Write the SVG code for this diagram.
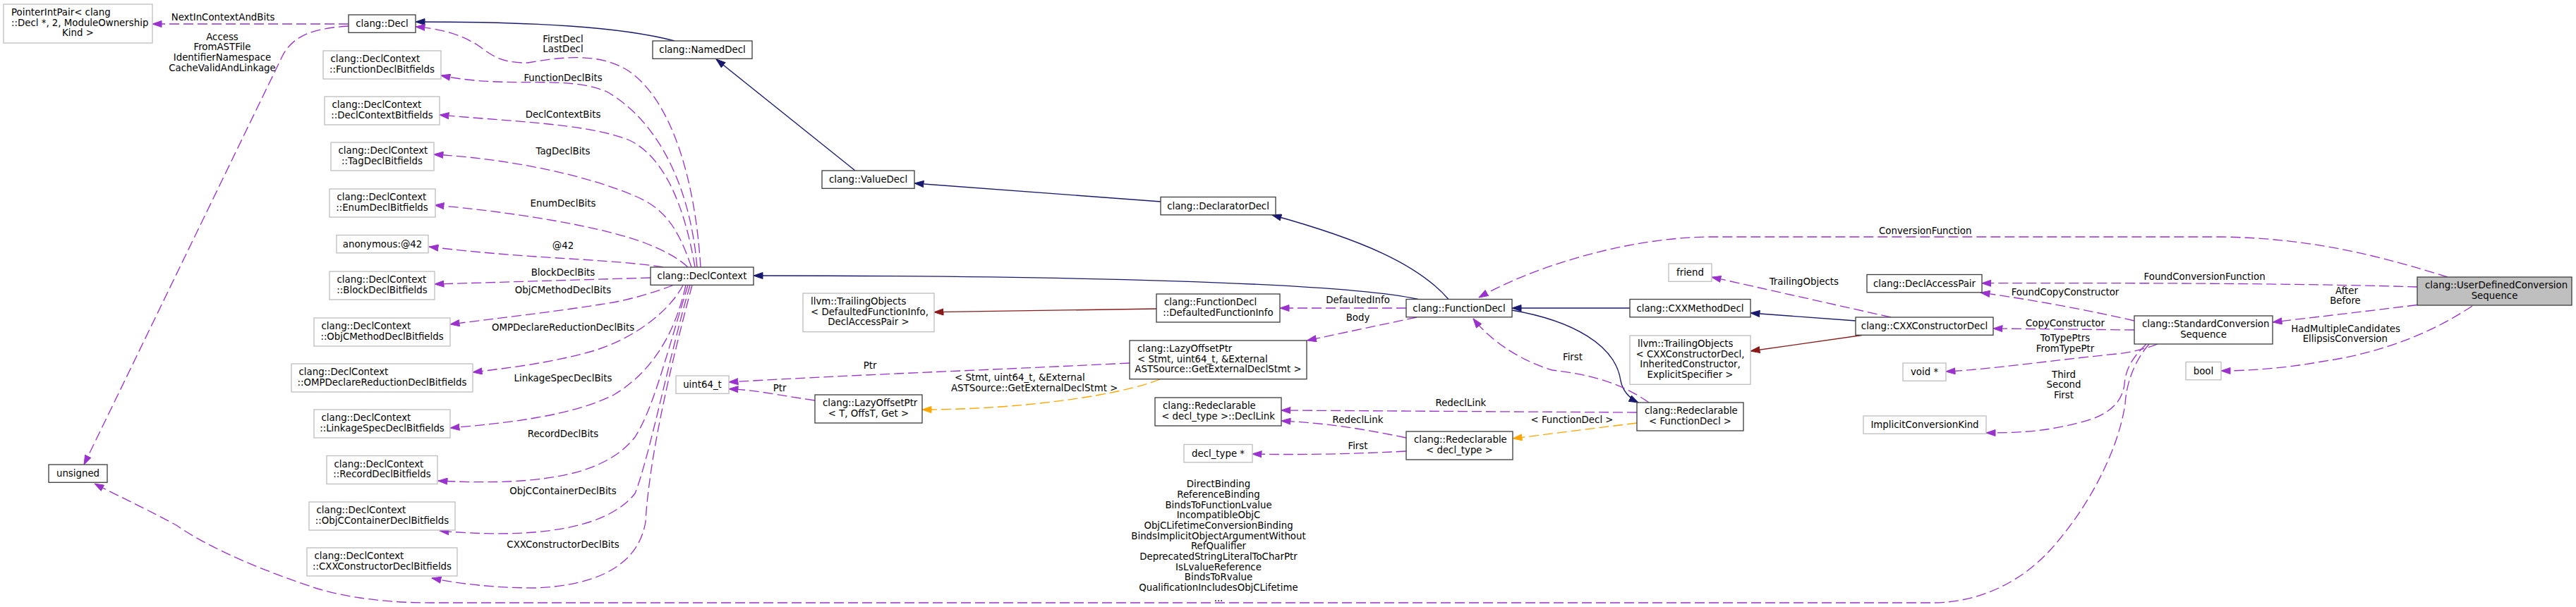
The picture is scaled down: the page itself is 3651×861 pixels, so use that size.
<svg xmlns="http://www.w3.org/2000/svg" width="3651" height="861" viewBox="0 0 3651 861">
<defs>
<style>
text{font-family:"DejaVu Sans","Liberation Sans",sans-serif;font-size:13.33px;fill:#000}
.m{text-anchor:middle}
.s{text-anchor:start}
.nb rect{fill:#fff;stroke:#404040;stroke-width:1.33}
.ng rect{fill:#fff;stroke:#bfbfbf;stroke-width:1.33}
.nc rect{fill:#bfbfbf;stroke:#404040;stroke-width:1.33}
.e path{fill:none;stroke-width:1.33}
.e .nv{stroke:#191970;marker-end:url(#mn)}
.e .rd{stroke:#8b1a1a;marker-end:url(#mr)}
.e .pp{stroke:#9a32cd;stroke-dasharray:14,6;marker-end:url(#mp)}
.e .or{stroke:#ffa500;stroke-dasharray:14,6;marker-end:url(#mo)}
</style>
<marker id="mn" viewBox="0 0 14 10" refX="13.5" refY="5" markerWidth="14" markerHeight="10" markerUnits="userSpaceOnUse" orient="auto"><path d="M0.5,0.5 L13.5,5 L0.5,9.5 z" fill="#191970" stroke="#191970"/></marker>
<marker id="mr" viewBox="0 0 14 10" refX="13.5" refY="5" markerWidth="14" markerHeight="10" markerUnits="userSpaceOnUse" orient="auto"><path d="M0.5,0.5 L13.5,5 L0.5,9.5 z" fill="#8b1a1a" stroke="#8b1a1a"/></marker>
<marker id="mp" viewBox="0 0 14 10" refX="13.5" refY="5" markerWidth="14" markerHeight="10" markerUnits="userSpaceOnUse" orient="auto"><path d="M0.5,0.5 L13.5,5 L0.5,9.5 z" fill="#9a32cd" stroke="#9a32cd"/></marker>
<marker id="mo" viewBox="0 0 14 10" refX="13.5" refY="5" markerWidth="14" markerHeight="10" markerUnits="userSpaceOnUse" orient="auto"><path d="M0.5,0.5 L13.5,5 L0.5,9.5 z" fill="#ffa500" stroke="#ffa500"/></marker>
</defs>
<rect width="3651" height="861" fill="#fff"/>

<g id="connectors" class="e">
<path class="nv" d="M956,58 C880,38 760,31 589,31"/>
<path class="nv" d="M1212,242 L1015,84"/>
<path class="nv" d="M1645,286 L1296,260"/>
<path class="nv" d="M2053,424.5 C2010,375 1930,340 1803,305"/>
<path class="nv" d="M2010,424.5 C1900,400 1500,391 1068,391"/>
<path class="nv" d="M2310,437 L2143,437"/>
<path class="nv" d="M2143,440 C2230,455 2290,490 2297,540 C2300,555 2310,565 2322,571"/>
<path class="nv" d="M2630,455 L2481,444"/>
<path class="rd" d="M1639,438 L1324,442.7"/>
<path class="rd" d="M2639,475.5 L2481,498"/>
<path class="or" d="M1644,538 C1590,560 1450,581 1307,581"/>
<path class="or" d="M2320,600 L2144,622"/>
<path class="pp" d="M494,34 L216,34"/>
<path class="pp" d="M494,37 C445,40 415,50 400,80 L119,659"/>
<path class="pp" d="M993,379 C985,250 950,140 890,100 C850,75 800,80 748,89 C700,90 690,70 670,60 C650,48 620,40 589,38"/>
<path class="pp" d="M988,379 C978,260 930,170 860,130 C800,105 720,127 625,107"/>
<path class="pp" d="M985,379 C970,290 940,220 890,198 C830,175 720,172 623,163"/>
<path class="pp" d="M980,379 C960,320 940,295 900,278 C830,248 720,225 615,219"/>
<path class="pp" d="M975,379 C960,365 940,355 915,345 C850,320 720,300 616,291"/>
<path class="pp" d="M940,379 C900,372 820,368 760,364 C700,360 650,355 608,350"/>
<path class="pp" d="M922,394 L616,403"/>
<path class="pp" d="M954,404.5 C920,418 880,428 850,432 C780,443 700,452 638,460"/>
<path class="pp" d="M968,404.5 C950,440 900,480 840,498 C780,515 720,522 670,528"/>
<path class="pp" d="M972,404.5 C955,480 920,530 870,560 C810,590 720,600 638,607"/>
<path class="pp" d="M975,404.5 C940,520 925,580 900,620 C860,670 780,690 621,682"/>
<path class="pp" d="M978,404.5 C950,500 920,650 900,700 C860,750 760,765 623,753"/>
<path class="pp" d="M981,404.5 C950,520 920,650 915,740 C905,800 850,830 760,834 C700,834 650,828 612,820"/>
<path class="pp" d="M1601,515 C1400,525 1200,532 1033,542"/>
<path class="pp" d="M1155,568 C1100,560 1070,553 1033,551.7"/>
<path class="pp" d="M1993,437 L1814,437"/>
<path class="pp" d="M2008,450 L1852.5,483"/>
<path class="pp" d="M2337,571 C2300,545 2260,532 2200,525 C2150,510 2110,480 2088,452"/>
<path class="pp" d="M2320,585 L1816,582"/>
<path class="pp" d="M1993,621 C1930,608 1880,600 1816,597"/>
<path class="pp" d="M1993,640 C1900,645 1830,645 1775,644"/>
<path class="pp" d="M2680,450 L2426,393"/>
<path class="pp" d="M3469,393 C3380,365 3280,338 3150,336 L2420,336 C2300,338 2170,380 2096,422"/>
<path class="pp" d="M3426,407 C3300,403 3100,401 2809,401.7"/>
<path class="pp" d="M3025,455 C2960,440 2880,425 2807,415"/>
<path class="pp" d="M3025,468 L2825,466"/>
<path class="pp" d="M3058,488 C3040,495 3020,500 3000,502 C2900,512 2820,524 2758,527"/>
<path class="pp" d="M3042,488 C3025,505 3013,520 3011,545 C3008,570 2990,590 2945,600 C2900,612 2860,614 2815,614"/>
<path class="pp" d="M3046,488 C3027,510 3014,540 3012,573 C3002,640 2960,720 2906,780 C2860,830 2800,855 2738,855 L610,855 C560,855 500,850 450,835 C380,812 300,780 250,745 C200,718 160,700 134,686"/>
<path class="pp" d="M3426,432.5 C3350,442 3280,450 3221,457"/>
<path class="pp" d="M3504,434 C3450,470 3380,500 3290,513 C3240,522 3190,526 3148,526"/>
</g>

<g id="edge-labels">
<text class="m" x="316" y="29">NextInContextAndBits</text>
<text class="m" x="315" y="56.7">Access</text>
<text class="m" x="315" y="71.4">FromASTFile</text>
<text class="m" x="315" y="86">IdentifierNamespace</text>
<text class="m" x="315" y="100.7">CacheValidAndLinkage</text>
<text class="m" x="798" y="59.7">FirstDecl</text>
<text class="m" x="798" y="74.3">LastDecl</text>
<text class="m" x="798" y="114.7">FunctionDeclBits</text>
<text class="m" x="798" y="167">DeclContextBits</text>
<text class="m" x="798" y="219">TagDeclBits</text>
<text class="m" x="798" y="293">EnumDeclBits</text>
<text class="m" x="798" y="353">@42</text>
<text class="m" x="798" y="390.7">BlockDeclBits</text>
<text class="m" x="798" y="415.7">ObjCMethodDeclBits</text>
<text class="m" x="798" y="469">OMPDeclareReductionDeclBits</text>
<text class="m" x="798" y="541.4">LinkageSpecDeclBits</text>
<text class="m" x="798" y="620.4">RecordDeclBits</text>
<text class="m" x="798" y="701.4">ObjCContainerDeclBits</text>
<text class="m" x="798" y="777">CXXConstructorDeclBits</text>
<text class="m" x="1233" y="522.7">Ptr</text>
<text class="m" x="1105" y="555.4">Ptr</text>
<text class="s" x="1353" y="540.4">&lt; Stmt, uint64_t, &amp;External</text>
<text class="s" x="1348" y="555">ASTSource::GetExternalDeclStmt &gt;</text>
<text class="m" x="1924.5" y="430">DefaultedInfo</text>
<text class="m" x="1924.5" y="455.4">Body</text>
<text class="m" x="2229" y="511.4">First</text>
<text class="m" x="2070.4" y="576.4">RedeclLink</text>
<text class="m" x="2228" y="599.7">&lt; FunctionDecl &gt;</text>
<text class="m" x="1924.5" y="599.7">RedeclLink</text>
<text class="m" x="1924.5" y="637">First</text>
<text class="m" x="2556.8" y="404">TrailingObjects</text>
<text class="m" x="2728.7" y="332.4">ConversionFunction</text>
<text class="m" x="3124.6" y="397">FoundConversionFunction</text>
<text class="m" x="2927" y="419">FoundCopyConstructor</text>
<text class="m" x="2927" y="463">CopyConstructor</text>
<text class="m" x="2927" y="484">ToTypePtrs</text>
<text class="m" x="2927" y="499">FromTypePtr</text>
<text class="m" x="2925" y="535.7">Third</text>
<text class="m" x="2925" y="550.4">Second</text>
<text class="m" x="2925" y="565">First</text>
<text class="m" x="3326" y="417">After</text>
<text class="m" x="3324" y="431.4">Before</text>
<text class="m" x="3324.7" y="470.7">HadMultipleCandidates</text>
<text class="m" x="3323.8" y="485">EllipsisConversion</text>
<text class="m" x="1727" y="691.4">DirectBinding</text>
<text class="m" x="1727" y="706.1">ReferenceBinding</text>
<text class="m" x="1727" y="720.7">BindsToFunctionLvalue</text>
<text class="m" x="1727" y="735.4">IncompatibleObjC</text>
<text class="m" x="1727" y="750.1">ObjCLifetimeConversionBinding</text>
<text class="m" x="1727" y="764.7">BindsImplicitObjectArgumentWithout</text>
<text class="m" x="1727" y="779.4">RefQualifier</text>
<text class="m" x="1727" y="794.1">DeprecatedStringLiteralToCharPtr</text>
<text class="m" x="1727" y="808.7">IsLvalueReference</text>
<text class="m" x="1727" y="823.4">BindsToRvalue</text>
<text class="m" x="1727" y="838.1">QualificationIncludesObjCLifetime</text>
<text class="m" x="1727" y="852.7">...</text>
</g>

<g id="n-pointerintpair" class="ng"><rect x="5" y="6" width="211" height="55"/><text class="s" x="16" y="22">PointerIntPair&lt; clang</text><text class="s" x="16" y="36.7">::Decl *, 2, ModuleOwnership</text><text class="m" x="110.5" y="51.3">Kind &gt;</text></g>
<g id="n-decl" class="nb"><rect x="494" y="21" width="95" height="25.3"/><text class="m" x="541.5" y="38">clang::Decl</text></g>
<g id="n-nameddecl" class="nb"><rect x="925" y="58" width="141" height="25.3"/><text class="m" x="995.5" y="75">clang::NamedDecl</text></g>
<g id="n-valuedecl" class="nb"><rect x="1165" y="242" width="131" height="25.3"/><text class="m" x="1230.5" y="259">clang::ValueDecl</text></g>
<g id="n-declaratordecl" class="nb"><rect x="1645" y="279.5" width="163" height="25.3"/><text class="m" x="1726.5" y="296.5">clang::DeclaratorDecl</text></g>
<g id="n-functiondecl" class="nb"><rect x="1993" y="424.5" width="150" height="25.3"/><text class="m" x="2068" y="441.5">clang::FunctionDecl</text></g>
<g id="n-cxxmethoddecl" class="nb"><rect x="2310" y="424.5" width="171" height="25.3"/><text class="m" x="2395.5" y="441.5">clang::CXXMethodDecl</text></g>
<g id="n-declcontext" class="nb"><rect x="922" y="379" width="146" height="25.3"/><text class="m" x="995" y="396">clang::DeclContext</text></g>
<g id="n-fdb" class="ng"><rect x="458" y="72" width="167" height="40"/><text class="s" x="468.5" y="88">clang::DeclContext</text><text class="m" x="541.5" y="102.7">::FunctionDeclBitfields</text></g>
<g id="n-dcb" class="ng"><rect x="460" y="137" width="163" height="40"/><text class="s" x="470.5" y="153">clang::DeclContext</text><text class="m" x="541.5" y="167.7">::DeclContextBitfields</text></g>
<g id="n-tdb" class="ng"><rect x="469" y="202" width="146" height="40"/><text class="s" x="479.5" y="218">clang::DeclContext</text><text class="m" x="541.5" y="232.7">::TagDeclBitfields</text></g>
<g id="n-edb" class="ng"><rect x="467" y="268" width="150" height="40"/><text class="s" x="477.5" y="284">clang::DeclContext</text><text class="m" x="541.5" y="298.7">::EnumDeclBitfields</text></g>
<g id="n-anon" class="ng"><rect x="477" y="333.5" width="130" height="25.3"/><text class="m" x="542" y="350.5">anonymous:@42</text></g>
<g id="n-bdb" class="ng"><rect x="467" y="385" width="149" height="40"/><text class="s" x="477.5" y="401">clang::DeclContext</text><text class="m" x="541.5" y="415.7">::BlockDeclBitfields</text></g>
<g id="n-omdb" class="ng"><rect x="445" y="451" width="193" height="40"/><text class="s" x="455.5" y="467">clang::DeclContext</text><text class="m" x="541.5" y="481.7">::ObjCMethodDeclBitfields</text></g>
<g id="n-ompdb" class="ng"><rect x="413" y="516" width="257" height="40"/><text class="s" x="423.5" y="532">clang::DeclContext</text><text class="m" x="541.5" y="546.7">::OMPDeclareReductionDeclBitfields</text></g>
<g id="n-lsdb" class="ng"><rect x="445" y="581" width="193" height="40"/><text class="s" x="455.5" y="597">clang::DeclContext</text><text class="m" x="541.5" y="611.7">::LinkageSpecDeclBitfields</text></g>
<g id="n-rdb" class="ng"><rect x="463" y="646.5" width="157" height="40"/><text class="s" x="473.5" y="662.5">clang::DeclContext</text><text class="m" x="541.5" y="677.2">::RecordDeclBitfields</text></g>
<g id="n-ocdb" class="ng"><rect x="438" y="712" width="207" height="40"/><text class="s" x="448.5" y="728">clang::DeclContext</text><text class="m" x="541.5" y="742.7">::ObjCContainerDeclBitfields</text></g>
<g id="n-cxxdb" class="ng"><rect x="435" y="777" width="213" height="40"/><text class="s" x="445.5" y="793">clang::DeclContext</text><text class="m" x="541.5" y="807.7">::CXXConstructorDeclBitfields</text></g>
<g id="n-unsigned" class="nb"><rect x="69" y="659" width="83" height="25.3"/><text class="m" x="110.5" y="676">unsigned</text></g>
<g id="n-trailingdfi" class="ng"><rect x="1138" y="416" width="186" height="54.7"/><text class="s" x="1149" y="432">llvm::TrailingObjects</text><text class="s" x="1149" y="446.7">&lt; DefaultedFunctionInfo,</text><text class="m" x="1231" y="461.3">DeclAccessPair &gt;</text></g>
<g id="n-dfi" class="nb"><rect x="1639" y="417" width="175" height="40"/><text class="s" x="1650" y="433">clang::FunctionDecl</text><text class="m" x="1726.5" y="447.7">::DefaultedFunctionInfo</text></g>
<g id="n-uint64" class="ng"><rect x="958" y="533" width="75" height="25.3"/><text class="m" x="995.5" y="550">uint64_t</text></g>
<g id="n-lazystmt" class="nb"><rect x="1601" y="483" width="251" height="54.7"/><text class="s" x="1612" y="499">clang::LazyOffsetPtr</text><text class="s" x="1612" y="513.7">&lt; Stmt, uint64_t, &amp;External</text><text class="m" x="1726.5" y="528.3">ASTSource::GetExternalDeclStmt &gt;</text></g>
<g id="n-lazyt" class="nb"><rect x="1155" y="560" width="152" height="40"/><text class="s" x="1166" y="576">clang::LazyOffsetPtr</text><text class="m" x="1231" y="590.7">&lt; T, OffsT, Get &gt;</text></g>
<g id="n-decllink" class="nb"><rect x="1637" y="564" width="179" height="40"/><text class="s" x="1648" y="580">clang::Redeclarable</text><text class="m" x="1726.5" y="594.7">&lt; decl_type &gt;::DeclLink</text></g>
<g id="n-decltypeptr" class="ng"><rect x="1678" y="630.5" width="97" height="25.3"/><text class="m" x="1726.5" y="647.5">decl_type *</text></g>
<g id="n-redecldt" class="nb"><rect x="1993" y="612" width="151" height="40"/><text class="s" x="2004" y="628">clang::Redeclarable</text><text class="m" x="2068.5" y="642.7">&lt; decl_type &gt;</text></g>
<g id="n-redeclfd" class="nb"><rect x="2320" y="571" width="151" height="40"/><text class="s" x="2331" y="587">clang::Redeclarable</text><text class="m" x="2395.5" y="601.7">&lt; FunctionDecl &gt;</text></g>
<g id="n-friend" class="ng"><rect x="2365" y="374" width="61" height="25.3"/><text class="m" x="2395.5" y="391">friend</text></g>
<g id="n-trailingcxx" class="ng"><rect x="2310" y="476" width="171" height="69.3"/><text class="s" x="2321" y="492">llvm::TrailingObjects</text><text class="m" x="2395.5" y="506.7">&lt; CXXConstructorDecl,</text><text class="m" x="2395.5" y="521.3">InheritedConstructor,</text><text class="m" x="2395.5" y="536">ExplicitSpecifier &gt;</text></g>
<g id="n-cxxctor" class="nb"><rect x="2630" y="450" width="195" height="25.3"/><text class="m" x="2727.5" y="467">clang::CXXConstructorDecl</text></g>
<g id="n-declaccesspair" class="nb"><rect x="2646" y="389.5" width="163" height="25.3"/><text class="m" x="2727.5" y="406.5">clang::DeclAccessPair</text></g>
<g id="n-voidptr" class="ng"><rect x="2697" y="515" width="61" height="25.3"/><text class="m" x="2727.5" y="532">void *</text></g>
<g id="n-ick" class="ng"><rect x="2641" y="590" width="174" height="25.3"/><text class="m" x="2728" y="607">ImplicitConversionKind</text></g>
<g id="n-stdconv" class="nb"><rect x="3025" y="448" width="196" height="40"/><text class="s" x="3036" y="464">clang::StandardConversion</text><text class="m" x="3123" y="478.7">Sequence</text></g>
<g id="n-bool" class="ng"><rect x="3098" y="513.5" width="50" height="25.3"/><text class="m" x="3123" y="530.5">bool</text></g>
<g id="n-udcs" class="nc"><rect x="3426" y="393" width="219" height="40"/><text class="s" x="3437" y="409">clang::UserDefinedConversion</text><text class="m" x="3535.5" y="423.7">Sequence</text></g>
</svg>
